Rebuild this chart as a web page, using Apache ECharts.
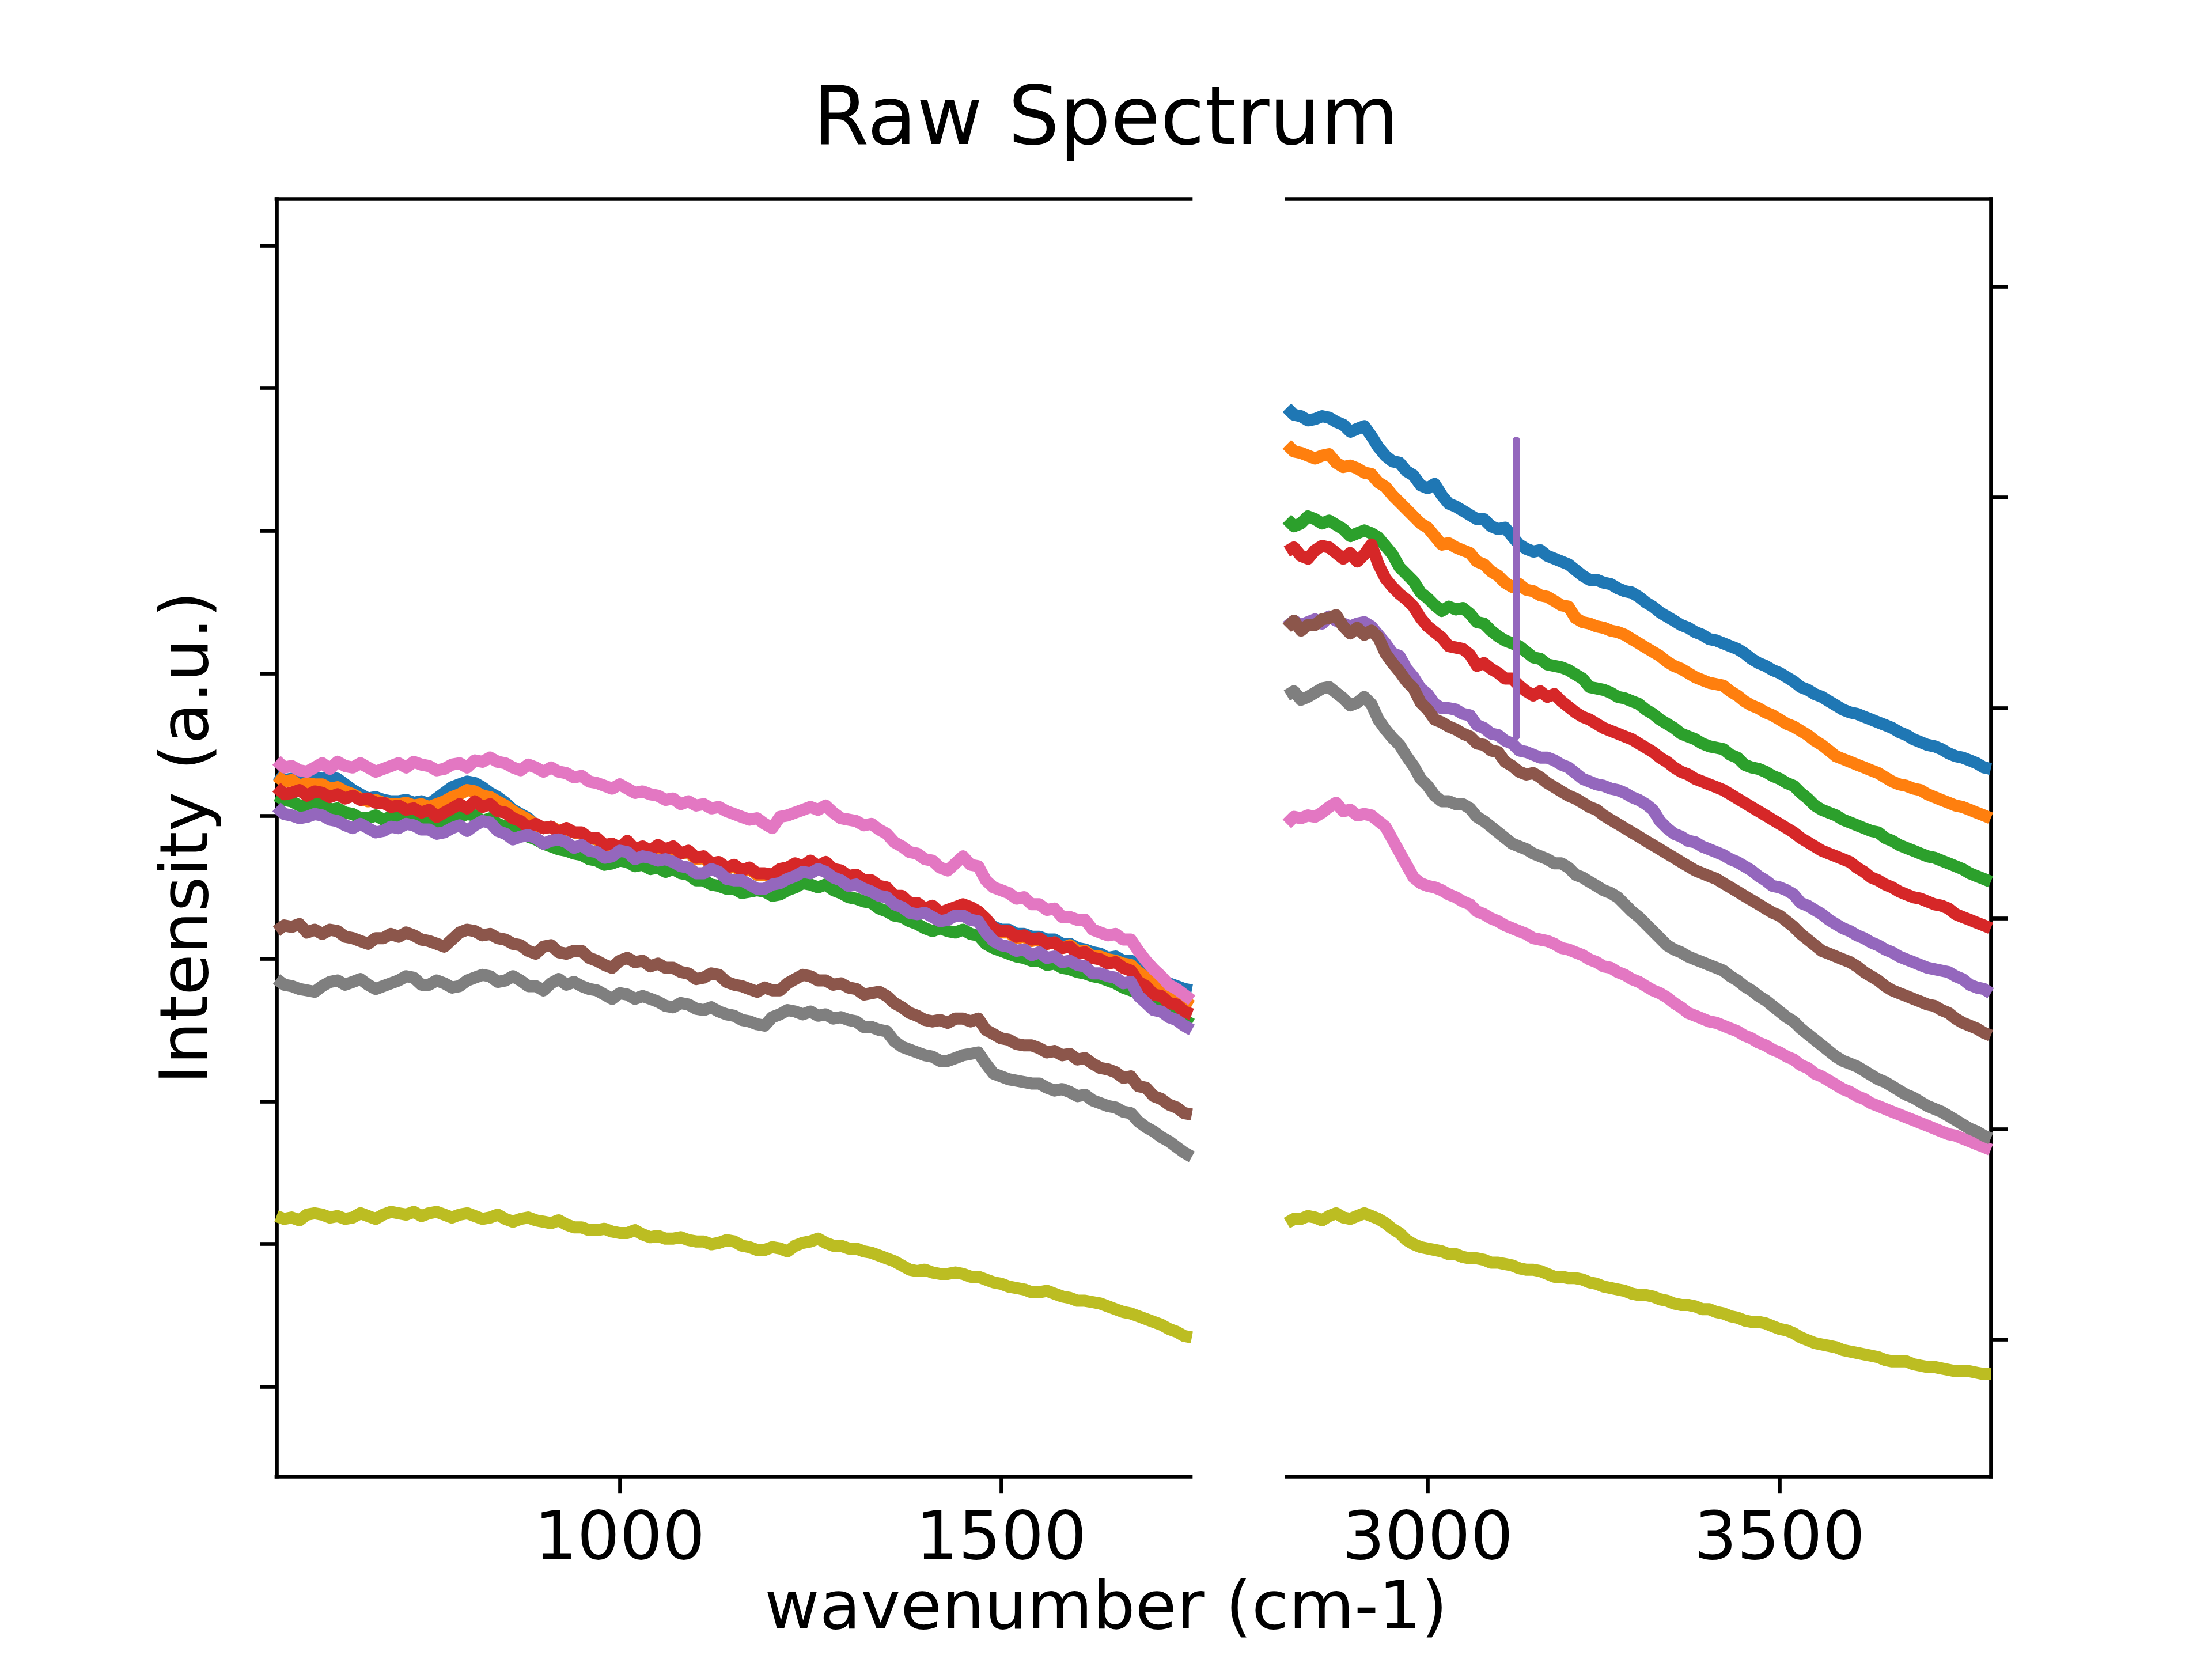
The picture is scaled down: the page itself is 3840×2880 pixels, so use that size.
<!DOCTYPE html>
<html><head><meta charset="utf-8">
<style>html,body{margin:0;padding:0;background:#fff}#c{width:3840px;height:2880px}</style>
<script src="https://cdn.jsdelivr.net/npm/echarts@6/dist/echarts.min.js"></script>
</head><body><div id="c"></div>
<script>
const title = 'Raw Spectrum';
const xLabel = 'wavenumber (cm-1)';
const yLabel = 'Intensity (a.u.)';
const wnLeft = [550,560,570,580,590,600,610,620,630,640,650,660,670,680,690,700,710,720,730,740,750,760,770,780,790,800,810,820,830,840,850,860,870,880,890,900,910,920,930,940,950,960,970,980,990,1000,1010,1020,1030,1040,1050,1060,1070,1080,1090,1100,1110,1120,1130,1140,1150,1160,1170,1180,1190,1200,1210,1220,1230,1240,1250,1260,1270,1280,1290,1300,1310,1320,1330,1340,1350,1360,1370,1380,1390,1400,1410,1420,1430,1440,1450,1460,1470,1480,1490,1500,1510,1520,1530,1540,1550,1560,1570,1580,1590,1600,1610,1620,1630,1640,1650,1660,1670,1680,1690,1700,1710,1720,1730,1740,1750];
const wnRight = [2800,2810,2820,2830,2840,2850,2860,2870,2880,2890,2900,2910,2920,2930,2940,2950,2960,2970,2980,2990,3000,3010,3020,3030,3040,3050,3060,3070,3080,3090,3100,3110,3120,3130,3140,3150,3160,3170,3180,3190,3200,3210,3220,3230,3240,3250,3260,3270,3280,3290,3300,3310,3320,3330,3340,3350,3360,3370,3380,3390,3400,3410,3420,3430,3440,3450,3460,3470,3480,3490,3500,3510,3520,3530,3540,3550,3560,3570,3580,3590,3600,3610,3620,3630,3640,3650,3660,3670,3680,3690,3700,3710,3720,3730,3740,3750,3760,3770,3780,3790,3800];
const leftTicks = [876.1,775,673.9,572.7,471.6,370.5,269.4,168.3,67.2];
const rightTicks = [846.9,697.6,548.2,399.1,249.7,100.4];
const xTicksLeft = [1000,1500];
const xTicksRight = [3000,3500];

const blueL = [501,497,498,496,497,499,498,499,498,494,490,487,484,485,483,482,482,483,481,482,480,484,488,492,494,496,495,492,488,485,481,476,473,470,465,463,464,461,462,460,459,456,455,451,451,448,453,448,449,446,450,447,449,445,446,441,442,437,438,434,436,432,434,430,430,429,433,434,437,435,439,435,438,433,432,428,429,425,425,421,420,414,414,409,409,405,407,402,404,406,408,406,403,398,393,391,391,388,388,386,386,384,384,381,381,378,377,375,374,371,372,369,369,364,360,358,355,353,351,349,348];
const orangeL = [500,496,497,493,495,494,494,491,492,489,487,484,482,483,481,480,480,481,479,480,478,480,482,485,487,490,489,486,485,482,479,475,472,469,465,463,464,461,462,460,459,456,455,451,451,448,453,448,449,446,450,447,449,445,446,441,442,437,438,434,436,432,434,430,430,429,433,434,437,435,439,435,438,433,432,428,429,425,425,421,420,414,414,409,409,405,407,402,404,406,408,406,403,398,391,389,389,385,386,383,384,381,382,378,380,376,376,372,372,370,369,367,366,361,357,353,349,345,342,340,337];
const greenL = [486,483,482,479,478,480,481,476,477,474,473,470,470,472,469,471,472,469,471,468,469,466,467,470,471,473,472,468,470,466,464,461,460,457,455,452,450,448,447,445,444,441,440,437,438,440,439,436,437,434,435,432,434,431,430,426,426,423,422,420,420,417,418,419,418,415,416,419,421,424,423,421,423,419,417,414,413,411,410,406,404,401,400,397,395,392,390,392,390,389,391,388,387,381,378,376,374,372,371,369,369,366,367,364,363,361,360,358,357,355,353,350,348,346,344,341,337,334,331,327,324];
const redL = [492,487,488,490,486,489,488,485,487,484,486,483,484,481,481,478,479,476,477,474,476,471,474,477,480,477,482,478,480,475,474,470,468,463,466,463,464,460,463,460,460,456,456,451,452,449,454,448,450,447,451,448,450,445,447,442,443,438,439,435,437,433,435,431,431,430,434,435,438,436,440,436,439,434,433,429,430,426,426,422,421,415,415,410,410,406,408,403,405,407,409,407,404,399,392,390,390,386,387,384,385,381,382,378,379,374,375,371,370,367,368,364,362,354,351,345,344,339,338,333,331];
const purpleL = [478,473,472,470,471,473,472,469,468,465,463,466,463,460,461,464,463,466,465,462,462,459,460,463,465,461,465,468,467,461,459,455,457,458,456,452,454,455,453,449,451,447,446,442,443,447,446,441,443,442,440,441,439,436,435,431,431,434,432,427,426,426,423,420,420,423,424,427,429,432,431,434,432,428,426,422,423,420,418,415,414,409,407,403,402,403,400,397,398,401,401,398,397,389,383,380,379,376,377,373,375,371,372,368,369,366,365,360,360,358,357,353,354,344,339,334,333,329,327,323,320];
const brownL = [390,394,393,395,389,391,388,391,390,386,385,383,381,385,385,388,386,389,387,384,383,381,379,384,389,391,390,387,388,385,384,381,380,376,374,379,380,375,374,376,376,371,369,366,364,369,371,368,369,365,367,364,364,361,360,356,357,360,359,354,352,351,349,347,350,348,348,353,356,359,358,355,355,352,353,350,349,345,346,347,344,339,336,332,330,327,326,327,325,328,328,326,328,320,317,314,313,310,309,309,307,304,305,302,303,299,300,296,293,292,290,286,287,280,279,273,271,267,265,261,260];
const pinkL = [511,506,507,504,503,506,509,505,510,507,506,509,506,503,505,507,509,506,510,508,507,504,505,508,509,506,511,510,513,510,509,506,504,508,506,503,506,503,502,499,500,496,495,493,491,494,491,488,489,487,486,483,484,480,482,479,480,477,478,475,473,471,469,470,466,463,471,472,474,476,478,476,479,474,470,469,468,465,466,462,459,453,450,446,445,441,440,435,433,438,443,437,436,426,421,419,417,413,414,409,409,405,406,400,400,398,398,391,389,387,388,384,384,376,369,363,358,352,349,345,341];
const grayL = [356,352,351,349,348,347,351,354,355,352,354,356,352,349,351,353,355,358,357,352,352,355,353,350,351,355,357,359,358,354,355,358,355,351,351,348,353,356,352,354,351,349,348,345,342,346,345,342,344,342,340,337,336,339,338,335,334,336,333,331,330,327,326,324,323,329,331,334,333,331,333,330,331,328,329,327,326,322,322,320,319,312,308,306,304,302,301,298,298,300,302,303,304,296,289,287,285,284,283,282,282,279,277,278,276,273,274,270,268,266,265,262,261,255,251,248,244,241,237,233,230];
const oliveL = [188,186,187,185,189,190,189,187,188,186,187,190,188,186,189,191,190,189,191,188,190,191,189,187,189,190,188,186,187,189,186,184,186,187,185,184,183,185,182,180,180,178,178,179,177,176,176,178,175,173,174,172,172,173,171,170,170,168,169,171,170,167,166,164,164,166,165,163,167,169,170,172,169,167,167,165,165,163,162,160,158,156,153,150,149,150,148,147,147,148,147,145,145,143,141,140,138,137,136,134,134,135,133,131,130,128,128,127,126,124,122,120,119,117,115,113,111,108,106,103,102];

const blueR = [761,756,755,752,753,755,754,751,749,744,746,748,741,733,727,723,722,716,713,706,704,707,699,693,691,688,685,682,682,677,675,676,670,664,661,659,660,656,654,652,650,646,642,639,639,637,636,633,631,630,627,623,620,616,613,610,607,605,602,600,597,596,594,592,590,587,583,580,578,575,573,570,567,563,561,558,556,553,550,547,545,544,542,540,538,536,534,531,529,526,524,522,521,519,516,514,513,511,509,506,505];
const orangeR = [735,730,729,727,725,727,728,722,719,720,718,715,714,708,705,699,694,689,684,679,676,670,664,665,662,660,658,652,650,645,642,637,634,636,632,631,628,627,624,621,620,612,609,608,606,605,603,602,600,597,594,591,588,585,581,578,576,573,570,568,566,565,564,560,557,553,550,548,545,543,540,537,535,532,529,525,522,518,514,512,510,508,506,504,502,499,496,494,493,491,490,487,485,483,481,479,478,476,474,472,470];
const greenR = [682,677,679,684,682,679,681,678,675,670,672,674,672,669,663,657,648,643,638,630,626,621,617,620,618,619,615,609,608,603,599,596,594,592,588,584,583,579,578,577,575,572,569,563,562,561,559,556,555,553,551,547,544,540,537,534,530,528,526,523,521,520,519,515,513,508,506,505,503,500,498,495,493,488,484,479,476,474,472,469,467,465,463,461,460,456,454,451,449,447,445,443,442,440,438,436,434,431,429,427,425];
const redR = [659,662,656,654,660,663,662,658,654,658,652,657,664,650,640,634,629,625,620,612,606,602,598,592,591,590,586,578,580,576,573,569,569,564,560,557,560,556,558,553,549,545,542,540,537,534,532,530,528,526,523,520,517,513,510,506,503,501,498,496,494,492,490,487,484,481,478,475,472,469,466,463,460,456,453,450,447,445,443,441,439,435,432,428,426,423,421,418,416,414,413,411,409,408,406,402,400,398,396,394,392];
const purpleR = [606,610,607,609,611,608,613,610,608,606,608,609,606,600,594,587,585,576,570,562,558,551,548,548,547,544,543,536,534,530,529,525,523,518,517,515,513,513,511,508,506,502,498,496,494,493,491,490,488,485,483,480,476,468,463,459,457,454,453,450,448,446,444,441,439,436,433,429,426,422,421,419,416,410,408,405,402,398,395,392,390,387,385,382,380,377,375,372,370,368,366,364,363,362,361,358,356,352,350,349,346];
const brownR = [605,610,603,607,607,611,612,614,606,601,605,600,603,598,587,580,574,567,562,552,547,540,538,535,533,530,528,523,522,518,517,510,507,503,501,502,499,495,492,489,486,484,481,478,476,472,469,466,463,460,457,454,451,448,445,442,439,436,433,431,429,427,424,421,418,415,412,409,406,403,401,397,393,388,384,380,376,374,372,370,368,365,361,358,355,351,348,346,344,342,340,338,337,334,332,328,325,323,321,318,316];
const pinkR = [466,471,470,472,471,474,478,481,475,476,472,473,472,468,464,455,446,437,428,424,422,421,419,416,414,411,409,404,402,399,397,394,392,390,388,385,384,383,381,378,377,375,373,370,368,365,364,361,359,356,354,351,348,346,343,339,336,332,330,328,326,325,323,321,319,316,314,311,309,306,304,301,299,295,293,289,287,284,281,278,276,273,271,268,266,264,262,260,258,256,254,252,250,248,246,245,243,241,239,237,235];
const grayR = [557,560,554,556,559,562,563,559,555,550,552,556,551,540,533,527,522,514,507,498,493,486,482,482,480,480,477,471,468,464,460,456,452,450,448,445,443,441,438,438,435,430,428,425,422,419,417,414,409,404,400,395,390,385,380,377,375,372,370,368,366,364,362,358,355,351,348,344,341,337,333,329,326,321,317,313,309,305,301,298,296,294,291,288,285,283,280,277,274,272,269,266,264,262,259,256,253,250,248,245,243];
const oliveR = [183,186,186,188,187,185,188,190,187,186,188,190,188,186,183,179,176,171,168,166,165,164,163,161,161,159,158,158,157,155,155,154,153,151,150,150,149,147,145,145,144,144,143,141,140,138,137,136,135,133,132,132,131,129,128,126,125,125,124,122,122,120,119,117,116,114,113,113,112,110,108,107,105,102,100,98,97,96,95,93,92,91,90,89,88,86,85,85,85,83,82,81,81,80,79,78,78,78,77,76,76];
const spikeX = [3126,3126];
const spikeY = [528,738];

const COLORS = ['#1f77b4','#ff7f0e','#2ca02c','#d62728','#9467bd','#8c564b','#e377c2','#7f7f7f','#bcbd22'];
const leftSets = [blueL,orangeL,greenL,redL,purpleL,brownL,pinkL,grayL,oliveL];
const rightSets = [blueR,orangeR,greenR,redR,purpleR,brownR,pinkR,grayR,oliveR];
const LW = 21, FS = 116.7;
const zip = (xs, ys) => xs.map((x, i) => [x, ys[i]]);
const mk = (xs, ys, color, xi, yi, z, lw, cap) => ({
  type:'line', xAxisIndex:xi, yAxisIndex:yi, data:zip(xs,ys), showSymbol:false, symbol:'none',
  clip:true, z:z, animation:false, silent:true,
  lineStyle:{color:color, width:lw, join:'round', cap:cap}
});
const series = [];
leftSets.forEach((ys,i) => series.push(mk(wnLeft, ys, COLORS[i], 0, 0, 2+i, LW, 'butt')));
rightSets.forEach((ys,i) => {
  series.push(mk(wnRight, ys, COLORS[i], 2, 1, 2+i, LW, 'butt'));
  if (i === 4) series.push(mk(spikeX, spikeY, COLORS[4], 2, 1, 6.5, 12.5, 'round'));
});
const spine = {show:true, lineStyle:{color:'#000', width:6.67, cap:'square'}};
const tick = {show:true, length:29, lineStyle:{color:'#000', width:6.67}};
const GT = 345.6, GH = 2217.6;
const xBottom = (g, mn, mx, ticks) => ({
  type:'value', gridIndex:g, position:'bottom', min:mn, max:mx, splitLine:{show:false},
  axisLine:spine, axisTick:Object.assign({}, tick, {customValues:ticks}),
  axisLabel:{show:true, customValues:ticks, margin:54, fontFamily:'DejaVu Sans', fontSize:FS, color:'#000', formatter:v=>String(v)}
});
const xTop = (g, mn, mx) => ({
  type:'value', gridIndex:g, position:'top', min:mn, max:mx, splitLine:{show:false},
  axisLine:spine, axisTick:{show:false}, axisLabel:{show:false}
});
const yAx = (g, pos, ticks, extra) => Object.assign({
  type:'value', gridIndex:g, position:pos, min:3.4, max:908.9, splitLine:{show:false},
  axisLine:spine, axisTick:Object.assign({}, tick, {customValues:ticks}), axisLabel:{show:false}
}, extra||{});
const chart = echarts.init(document.getElementById('c'), null, {renderer:'canvas', width:3840, height:2880, devicePixelRatio:1});
chart.setOption({
  animation:false, backgroundColor:'#fff',
  title:[
    {text:title, left:'center', top:139, textStyle:{fontFamily:'DejaVu Sans', fontSize:140, fontWeight:'normal', color:'#000'}},
    {text:xLabel, left:'center', top:2733, textStyle:{fontFamily:'DejaVu Sans', fontSize:FS, fontWeight:'normal', color:'#000'}}
  ],
  grid:[
    {left:480, top:GT, width:1587, height:GH},
    {left:2234, top:GT, width:1222, height:GH}
  ],
  xAxis:[ xBottom(0,550,1748.5,xTicksLeft), xTop(0,550,1748.5), xBottom(1,2800,3800,xTicksRight), xTop(1,2800,3800) ],
  yAxis:[
    yAx(0,'left',leftTicks,{name:yLabel, nameLocation:'middle', nameRotate:90, nameGap:92,
      nameTextStyle:{fontFamily:'DejaVu Sans', fontSize:FS, color:'#000'}}),
    yAx(1,'right',rightTicks)
  ],
  series:series
});
</script></body></html>
